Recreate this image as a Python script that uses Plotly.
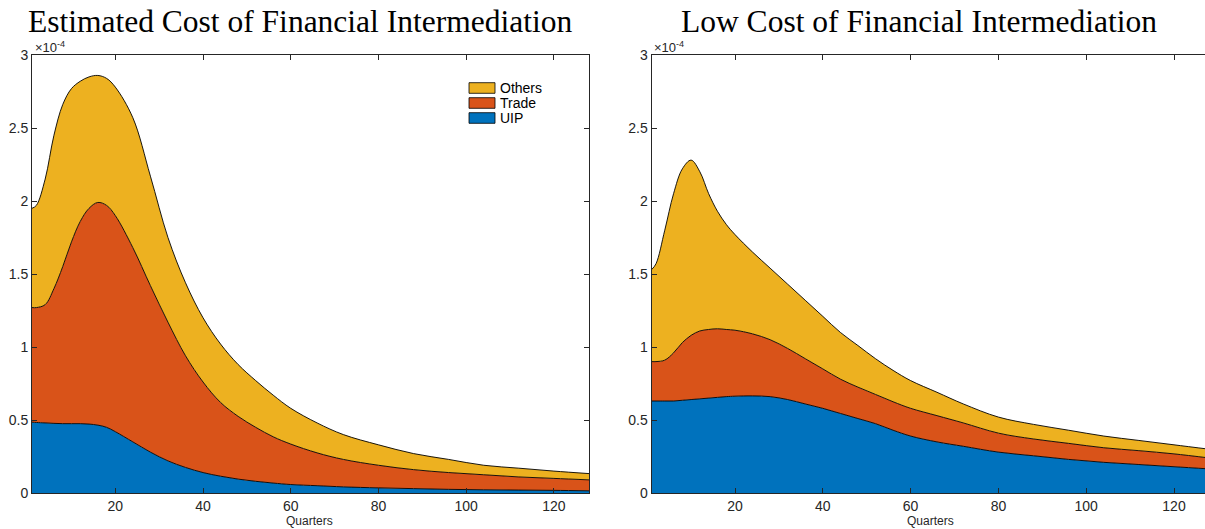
import plotly.graph_objects as go

# Quarters at which the decomposition is sampled
quarters = [1, 2, 4, 6, 8, 10, 12, 14, 16, 18, 20, 24, 28, 32, 36, 40, 44, 48,
            52, 56, 60, 66, 72, 80, 88, 96, 104, 112, 120, 128]

# Estimated cost of financial intermediation (units of 1e-4)
est_uip = [0.485, 0.483, 0.48, 0.477, 0.475, 0.475, 0.475, 0.472, 0.465, 0.45,
           0.42, 0.35, 0.28, 0.22, 0.175, 0.14, 0.115, 0.095, 0.08, 0.068,
           0.058, 0.05, 0.042, 0.035, 0.03, 0.025, 0.022, 0.02, 0.018, 0.015]
est_trade = [0.785, 0.787, 0.81, 0.923, 1.075, 1.245, 1.385, 1.478, 1.525, 1.52,
             1.48, 1.33, 1.14, 0.95, 0.765, 0.62, 0.505, 0.43, 0.37, 0.317,
             0.277, 0.225, 0.188, 0.155, 0.13, 0.115, 0.103, 0.09, 0.082, 0.075]
est_others = [0.68, 0.70, 0.86, 1.05, 1.11, 1.05, 0.96, 0.90, 0.87, 0.87,
              0.88, 0.89, 0.75, 0.58, 0.50, 0.44, 0.40, 0.355, 0.32, 0.285,
              0.245, 0.205, 0.17, 0.14, 0.11, 0.09, 0.065, 0.06, 0.05, 0.043]

# Low cost of financial intermediation (units of 1e-4)
low_uip = [0.63, 0.63, 0.63, 0.63, 0.635, 0.64, 0.645, 0.65, 0.655, 0.66,
           0.663, 0.665, 0.66, 0.64, 0.61, 0.58, 0.545, 0.51, 0.475, 0.43,
           0.39, 0.35, 0.32, 0.28, 0.255, 0.23, 0.21, 0.195, 0.18, 0.165]
low_trade = [0.27, 0.27, 0.28, 0.33, 0.395, 0.44, 0.465, 0.47, 0.47, 0.46,
             0.452, 0.425, 0.39, 0.35, 0.31, 0.27, 0.235, 0.215, 0.2, 0.195,
             0.19, 0.18, 0.16, 0.13, 0.115, 0.11, 0.10, 0.095, 0.088, 0.075]
low_others = [0.63, 0.67, 0.89, 1.09, 1.19, 1.20, 1.09, 0.93, 0.805, 0.72,
              0.655, 0.56, 0.49, 0.44, 0.40, 0.36, 0.32, 0.285, 0.245, 0.215,
              0.19, 0.16, 0.13, 0.11, 0.10, 0.09, 0.08, 0.07, 0.062, 0.06]

series_names = ["UIP", "Trade", "Others"]
series_colors = ["#0072BD", "#D95319", "#EDB120"]

titles = ["Estimated Cost of Financial Intermediation",
          "Low Cost of Financial Intermediation"]
x_ticks = [20, 40, 60, 80, 100, 120]
y_ticks = [0, 0.5, 1, 1.5, 2, 2.5, 3]
y_tick_text = ["0", "0.5", "1", "1.5", "2", "2.5", "3"]

W, H = 1205, 529
AX = "#262626"
TICK_FONT = dict(family="Liberation Sans, Arial, sans-serif", size=14, color=AX)

fig = go.Figure()

panels = [
    ("x", "y", [est_uip, est_trade, est_others]),
    ("x2", "y2", [low_uip, low_trade, low_others]),
]
for xa, ya, layers in panels:
    for name, color, vals in zip(series_names, series_colors, layers):
        fig.add_trace(go.Scatter(
            x=quarters, y=vals, name=name, xaxis=xa, yaxis=ya,
            stackgroup="grp_" + xa, mode="lines",
            line=dict(color="black", width=0.9, shape="spline", smoothing=1.0),
            fillcolor=color, showlegend=False, hoverinfo="x+y+name",
        ))

# Pixel geometry of the two panels
left_px = (32, 589)
right_px = (651.6, 1205)
top_px, bottom_px = 55, 493
ydom = [(H - bottom_px) / H, (H - top_px) / H]


def xaxis_cfg(px, rng):
    return dict(domain=[px[0] / W, px[1] / W], range=rng, tickvals=x_ticks,
                ticks="inside", ticklen=5, tickcolor=AX, tickwidth=1,
                showline=True, linecolor=AX, linewidth=1, mirror="ticks",
                showgrid=False, zeroline=False, tickfont=TICK_FONT)


def yaxis_cfg(anchor, mirror):
    return dict(domain=ydom, range=[0, 3], tickvals=y_ticks, ticktext=y_tick_text,
                anchor=anchor, ticks="inside", ticklen=5, tickcolor=AX, tickwidth=1,
                showline=True, linecolor=AX, linewidth=1, mirror=mirror,
                showgrid=False, zeroline=False, tickfont=TICK_FONT)


fig.update_layout(
    width=W, height=H, autosize=False,
    margin=dict(l=0, r=0, t=0, b=0, pad=0, autoexpand=False),
    paper_bgcolor="white", plot_bgcolor="white",
    xaxis=dict(xaxis_cfg(left_px, [1, 128]), anchor="y"),
    yaxis=yaxis_cfg("x", "ticks"),
    xaxis2=dict(xaxis_cfg(right_px, [1, 127.06]), anchor="y2"),
    yaxis2=yaxis_cfg("x2", False),
    showlegend=False,
)

annotations = []
title_centers = [300, 919]
label_centers = [310, 930]
exp_left = [33, 652]
for tc, lc, ex, ttl in zip(title_centers, label_centers, exp_left, titles):
    annotations.append(dict(
        text=ttl, x=tc / W, y=1 - 21 / H, xref="paper", yref="paper",
        xanchor="center", yanchor="middle", showarrow=False,
        font=dict(family="Liberation Serif, Times New Roman, serif", size=31.5,
                  color="black")))
    annotations.append(dict(
        text="Quarters", x=lc / W, y=1 - 521 / H, xref="paper", yref="paper",
        xanchor="center", yanchor="middle", showarrow=False,
        font=dict(family="Liberation Sans, Arial, sans-serif", size=12, color=AX)))
    annotations.append(dict(
        text="×10<sup>-4</sup>", x=ex / W, y=1 - 47 / H, xref="paper", yref="paper",
        xanchor="left", yanchor="middle", showarrow=False,
        font=dict(family="Liberation Sans, Arial, sans-serif", size=13, color=AX)))

# Legend for the left panel (Others on top, UIP at the bottom)
shapes = []
legend_rows = [("Others", "#EDB120", 88), ("Trade", "#D95319", 103),
               ("UIP", "#0072BD", 118)]
for label, color, yc in legend_rows:
    shapes.append(dict(type="rect", xref="paper", yref="paper",
                       x0=469 / W, x1=495 / W,
                       y0=1 - (yc + 5.3) / H, y1=1 - (yc - 5.3) / H,
                       fillcolor=color, line=dict(color="black", width=0.8)))
    annotations.append(dict(
        text=label, x=498 / W, y=1 - yc / H, xref="paper", yref="paper",
        xanchor="left", yanchor="middle", showarrow=False,
        font=dict(family="Liberation Sans, Arial, sans-serif", size=14,
                  color="black")))

fig.update_layout(annotations=annotations, shapes=shapes)

fig.write_html("out.html")
